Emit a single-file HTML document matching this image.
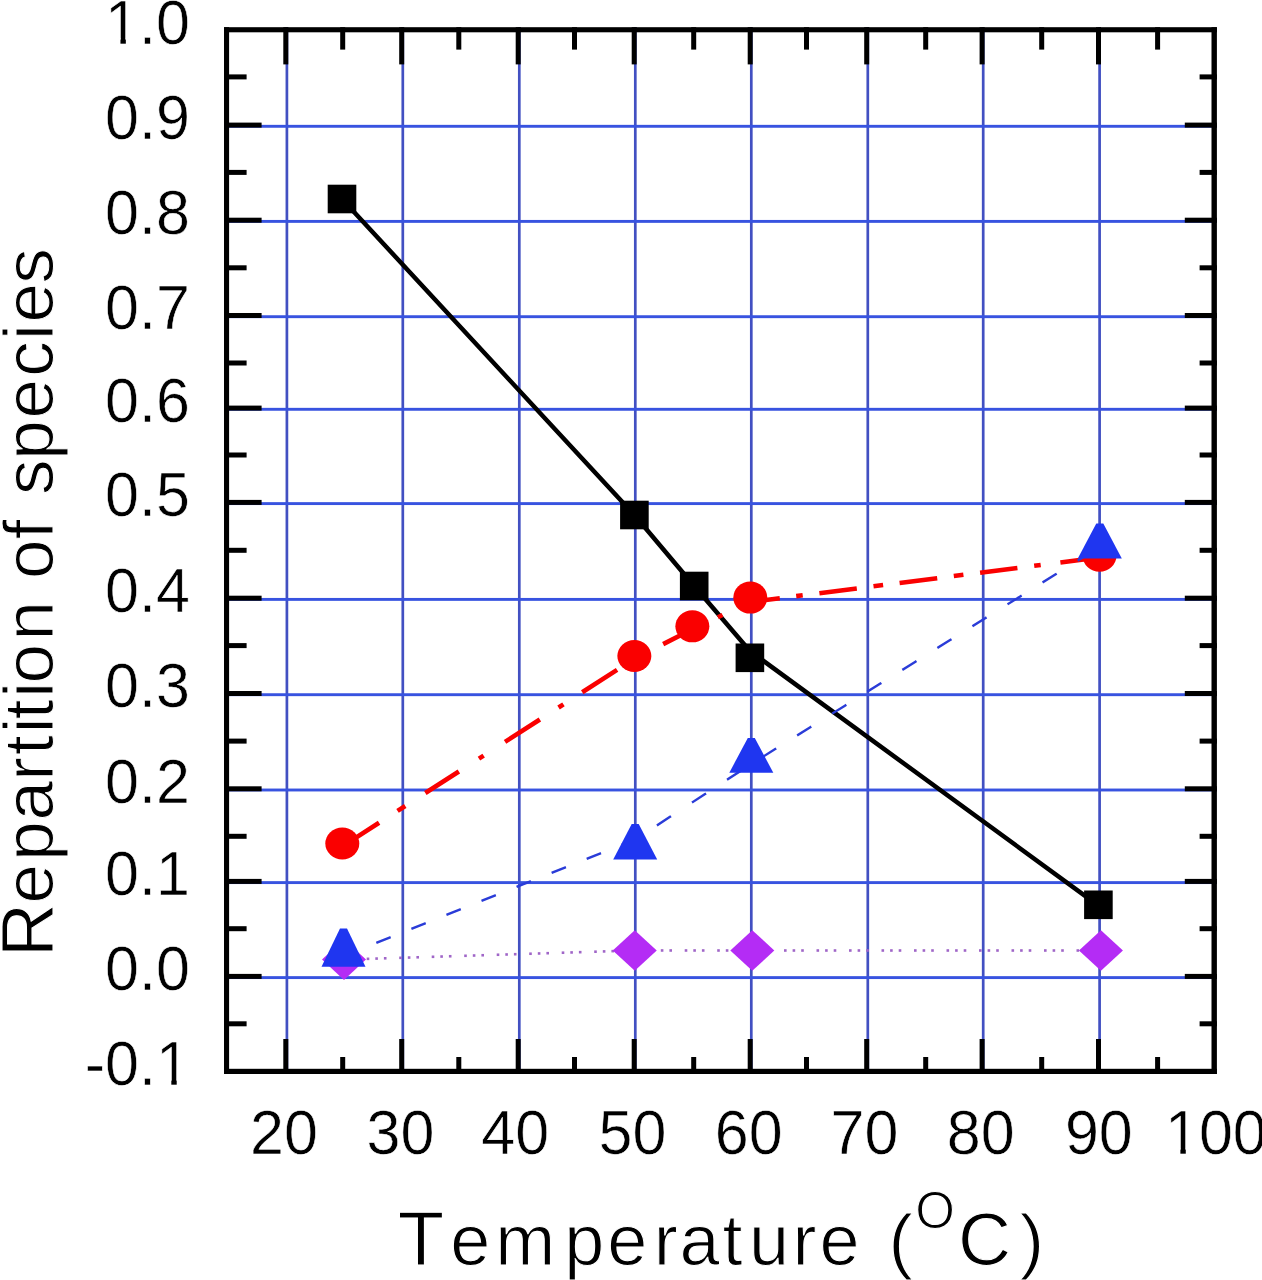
<!DOCTYPE html>
<html><head><meta charset="utf-8"><style>
html,body{margin:0;padding:0;background:#fff;width:1262px;height:1280px;overflow:hidden}
svg{display:block;filter:blur(0.65px)}
</style></head><body>
<svg width="1262" height="1280" viewBox="0 0 1262 1280">
<rect x="285.55" y="27.2" width="2.7" height="1046.8" fill="#4250c2"/>
<rect x="401.45" y="27.2" width="2.7" height="1046.8" fill="#4250c2"/>
<rect x="517.95" y="27.2" width="2.7" height="1046.8" fill="#4250c2"/>
<rect x="633.95" y="27.2" width="2.7" height="1046.8" fill="#4250c2"/>
<rect x="749.95" y="27.2" width="2.7" height="1046.8" fill="#4250c2"/>
<rect x="866.45" y="27.2" width="2.7" height="1046.8" fill="#4250c2"/>
<rect x="981.85" y="27.2" width="2.7" height="1046.8" fill="#4250c2"/>
<rect x="1098.25" y="27.2" width="2.7" height="1046.8" fill="#4250c2"/>
<rect x="224" y="124.85" width="992.9" height="2.9" fill="#3853e0"/>
<rect x="224" y="219.95" width="992.9" height="2.9" fill="#3853e0"/>
<rect x="224" y="315.25" width="992.9" height="2.9" fill="#3853e0"/>
<rect x="224" y="407.85" width="992.9" height="2.9" fill="#3853e0"/>
<rect x="224" y="502.15" width="992.9" height="2.9" fill="#3853e0"/>
<rect x="224" y="597.95" width="992.9" height="2.9" fill="#3853e0"/>
<rect x="224" y="693.25" width="992.9" height="2.9" fill="#3853e0"/>
<rect x="224" y="788.55" width="992.9" height="2.9" fill="#3853e0"/>
<rect x="224" y="881.15" width="992.9" height="2.9" fill="#3853e0"/>
<rect x="224" y="976.15" width="992.9" height="2.9" fill="#3853e0"/>
<rect x="283.3" y="27.2" width="5.0" height="37.2"/>
<rect x="283.3" y="1039" width="5.0" height="35"/>
<rect x="340.2" y="27.2" width="5.0" height="22.4"/>
<rect x="340.2" y="1057" width="5.0" height="17"/>
<rect x="399.2" y="27.2" width="5.0" height="37.2"/>
<rect x="399.2" y="1039" width="5.0" height="35"/>
<rect x="456.3" y="27.2" width="5.0" height="22.4"/>
<rect x="456.3" y="1057" width="5.0" height="17"/>
<rect x="515.7" y="27.2" width="5.0" height="37.2"/>
<rect x="515.7" y="1039" width="5.0" height="35"/>
<rect x="572" y="27.2" width="5.0" height="22.4"/>
<rect x="572" y="1057" width="5.0" height="17"/>
<rect x="631.7" y="27.2" width="5.0" height="37.2"/>
<rect x="631.7" y="1039" width="5.0" height="35"/>
<rect x="691.2" y="27.2" width="5.0" height="22.4"/>
<rect x="691.2" y="1057" width="5.0" height="17"/>
<rect x="747.7" y="27.2" width="5.0" height="37.2"/>
<rect x="747.7" y="1039" width="5.0" height="35"/>
<rect x="804" y="27.2" width="5.0" height="22.4"/>
<rect x="804" y="1057" width="5.0" height="17"/>
<rect x="864.2" y="27.2" width="5.0" height="37.2"/>
<rect x="864.2" y="1039" width="5.0" height="35"/>
<rect x="923.2" y="27.2" width="5.0" height="22.4"/>
<rect x="923.2" y="1057" width="5.0" height="17"/>
<rect x="979.6" y="27.2" width="5.0" height="37.2"/>
<rect x="979.6" y="1039" width="5.0" height="35"/>
<rect x="1039.2" y="27.2" width="5.0" height="22.4"/>
<rect x="1039.2" y="1057" width="5.0" height="17"/>
<rect x="1096" y="27.2" width="5.0" height="37.2"/>
<rect x="1096" y="1039" width="5.0" height="35"/>
<rect x="1155.1" y="27.2" width="5.0" height="22.4"/>
<rect x="1155.1" y="1057" width="5.0" height="17"/>
<rect x="224" y="74.4" width="22.6" height="5.0"/>
<rect x="1199.6" y="74.4" width="17.3" height="5.0"/>
<rect x="224" y="122.6" width="37.6" height="5.0"/>
<rect x="1184.8" y="122.6" width="32.1" height="5.0"/>
<rect x="224" y="169.9" width="22.6" height="5.0"/>
<rect x="1199.6" y="169.9" width="17.3" height="5.0"/>
<rect x="224" y="217.7" width="37.6" height="5.0"/>
<rect x="1184.8" y="217.7" width="32.1" height="5.0"/>
<rect x="224" y="265.3" width="22.6" height="5.0"/>
<rect x="1199.6" y="265.3" width="17.3" height="5.0"/>
<rect x="224" y="313" width="37.6" height="5.0"/>
<rect x="1184.8" y="313" width="32.1" height="5.0"/>
<rect x="224" y="360.5" width="22.6" height="5.0"/>
<rect x="1199.6" y="360.5" width="17.3" height="5.0"/>
<rect x="224" y="405.6" width="37.6" height="5.0"/>
<rect x="1184.8" y="405.6" width="32.1" height="5.0"/>
<rect x="224" y="452.5" width="22.6" height="5.0"/>
<rect x="1199.6" y="452.5" width="17.3" height="5.0"/>
<rect x="224" y="499.9" width="37.6" height="5.0"/>
<rect x="1184.8" y="499.9" width="32.1" height="5.0"/>
<rect x="224" y="547.8" width="22.6" height="5.0"/>
<rect x="1199.6" y="547.8" width="17.3" height="5.0"/>
<rect x="224" y="595.7" width="37.6" height="5.0"/>
<rect x="1184.8" y="595.7" width="32.1" height="5.0"/>
<rect x="224" y="643.1" width="22.6" height="5.0"/>
<rect x="1199.6" y="643.1" width="17.3" height="5.0"/>
<rect x="224" y="691" width="37.6" height="5.0"/>
<rect x="1184.8" y="691" width="32.1" height="5.0"/>
<rect x="224" y="738.6" width="22.6" height="5.0"/>
<rect x="1199.6" y="738.6" width="17.3" height="5.0"/>
<rect x="224" y="786.3" width="37.6" height="5.0"/>
<rect x="1184.8" y="786.3" width="32.1" height="5.0"/>
<rect x="224" y="833.8" width="22.6" height="5.0"/>
<rect x="1199.6" y="833.8" width="17.3" height="5.0"/>
<rect x="224" y="878.9" width="37.6" height="5.0"/>
<rect x="1184.8" y="878.9" width="32.1" height="5.0"/>
<rect x="224" y="926.2" width="22.6" height="5.0"/>
<rect x="1199.6" y="926.2" width="17.3" height="5.0"/>
<rect x="224" y="973.9" width="37.6" height="5.0"/>
<rect x="1184.8" y="973.9" width="32.1" height="5.0"/>
<rect x="224" y="1021.3" width="22.6" height="5.0"/>
<rect x="1199.6" y="1021.3" width="17.3" height="5.0"/>
<rect x="224.0" y="27.2" width="992.9" height="5.1"/>
<rect x="224.0" y="1068.8" width="992.9" height="5.2"/>
<rect x="224.0" y="27.2" width="5.1" height="1046.8"/>
<rect x="1211.5" y="27.2" width="5.4" height="1046.8"/>
<polyline points="342,199 634.4,515 694.2,586 749.9,651 1098.4,905.6" fill="none" stroke="#000" stroke-width="4.5" stroke-linejoin="round"/>
<rect x="327.7" y="184.7" width="28.6" height="28.6"/>
<rect x="620.1" y="500.7" width="28.6" height="28.6"/>
<rect x="679.9" y="571.7" width="28.6" height="28.6"/>
<rect x="735.6" y="643.5" width="28.6" height="28.6"/>
<rect x="1084.1" y="890.5" width="28.6" height="28.6"/>
<path d="M345.54 844.32 L379.06 822.79 M397.54 810.91 L405.26 805.96 M425.34 793.06 L458.86 771.53 M478.94 758.63 L483.66 755.6 M505.04 741.86 L539.86 719.5 M558.54 707.5 L563.46 704.34 M582.24 692.27 L617.06 669.91 M636.85 657.53 L642.65 654.56 M663.15 644.1 L692.35 629.2 L698.65 626.24 M717.88 617.22 L722.52 615.04 M741.09 606.32 L750.3 602 L779.81 598.24 M796.19 596.15 L802.71 595.32 M819.39 593.2 L856.81 588.43 M873.49 586.3 L883.11 585.08 M899.59 582.98 L937.21 578.18 M953.79 576.07 L963.41 574.84 M980.09 572.72 L1017.41 567.96 M1034.19 565.82 L1040.71 564.99 M1060.39 562.48 L1098.91 557.58" fill="none" stroke="#fa0000" stroke-width="4.6" stroke-linecap="butt" stroke-linejoin="round"/>
<ellipse cx="342.3" cy="843.5" rx="17" ry="16" fill="#fa0000"/>
<ellipse cx="634.35" cy="656" rx="17" ry="16" fill="#fa0000"/>
<ellipse cx="692.35" cy="626.35" rx="17" ry="16" fill="#fa0000"/>
<ellipse cx="750.3" cy="597.6" rx="17" ry="16" fill="#fa0000"/>
<ellipse cx="1099.5" cy="555.7" rx="17" ry="16" fill="#fa0000"/>
<g fill="#a066c8"><rect x="342.8" y="958.3" width="2.6" height="2.6"/><rect x="351.4" y="958.03" width="2.6" height="2.6"/><rect x="366.7" y="957.54" width="2.6" height="2.6"/><rect x="375.3" y="957.27" width="2.6" height="2.6"/><rect x="383.9" y="957" width="2.6" height="2.6"/><rect x="399.2" y="956.52" width="2.6" height="2.6"/><rect x="407.8" y="956.25" width="2.6" height="2.6"/><rect x="416.4" y="955.98" width="2.6" height="2.6"/><rect x="431.7" y="955.5" width="2.6" height="2.6"/><rect x="440.3" y="955.23" width="2.6" height="2.6"/><rect x="448.9" y="954.96" width="2.6" height="2.6"/><rect x="464.2" y="954.48" width="2.6" height="2.6"/><rect x="472.8" y="954.21" width="2.6" height="2.6"/><rect x="481.4" y="953.94" width="2.6" height="2.6"/><rect x="496.7" y="953.45" width="2.6" height="2.6"/><rect x="505.3" y="953.18" width="2.6" height="2.6"/><rect x="513.9" y="952.91" width="2.6" height="2.6"/><rect x="529.2" y="952.43" width="2.6" height="2.6"/><rect x="537.8" y="952.16" width="2.6" height="2.6"/><rect x="546.4" y="951.89" width="2.6" height="2.6"/><rect x="561.7" y="951.41" width="2.6" height="2.6"/><rect x="570.3" y="951.14" width="2.6" height="2.6"/><rect x="578.9" y="950.87" width="2.6" height="2.6"/><rect x="594.2" y="950.39" width="2.6" height="2.6"/><rect x="602.8" y="950.11" width="2.6" height="2.6"/><rect x="611.4" y="949.84" width="2.6" height="2.6"/><rect x="626.7" y="949.36" width="2.6" height="2.6"/><rect x="636.9" y="949.15" width="2.6" height="2.6"/><rect x="652.2" y="949.16" width="2.6" height="2.6"/><rect x="660.8" y="949.16" width="2.6" height="2.6"/><rect x="669.4" y="949.17" width="2.6" height="2.6"/><rect x="684.7" y="949.17" width="2.6" height="2.6"/><rect x="693.3" y="949.18" width="2.6" height="2.6"/><rect x="701.9" y="949.18" width="2.6" height="2.6"/><rect x="717.2" y="949.19" width="2.6" height="2.6"/><rect x="725.8" y="949.19" width="2.6" height="2.6"/><rect x="734.4" y="949.19" width="2.6" height="2.6"/><rect x="749.7" y="949.2" width="2.6" height="2.6"/><rect x="751.5" y="949.2" width="2.6" height="2.6"/><rect x="760.1" y="949.2" width="2.6" height="2.6"/><rect x="768.7" y="949.2" width="2.6" height="2.6"/><rect x="784" y="949.2" width="2.6" height="2.6"/><rect x="792.6" y="949.2" width="2.6" height="2.6"/><rect x="801.2" y="949.2" width="2.6" height="2.6"/><rect x="816.5" y="949.2" width="2.6" height="2.6"/><rect x="825.1" y="949.2" width="2.6" height="2.6"/><rect x="833.7" y="949.2" width="2.6" height="2.6"/><rect x="849" y="949.2" width="2.6" height="2.6"/><rect x="857.6" y="949.2" width="2.6" height="2.6"/><rect x="866.2" y="949.2" width="2.6" height="2.6"/><rect x="881.5" y="949.2" width="2.6" height="2.6"/><rect x="890.1" y="949.2" width="2.6" height="2.6"/><rect x="898.7" y="949.2" width="2.6" height="2.6"/><rect x="914" y="949.2" width="2.6" height="2.6"/><rect x="922.6" y="949.2" width="2.6" height="2.6"/><rect x="931.2" y="949.2" width="2.6" height="2.6"/><rect x="946.5" y="949.2" width="2.6" height="2.6"/><rect x="955.1" y="949.2" width="2.6" height="2.6"/><rect x="963.7" y="949.2" width="2.6" height="2.6"/><rect x="979" y="949.2" width="2.6" height="2.6"/><rect x="987.6" y="949.2" width="2.6" height="2.6"/><rect x="996.2" y="949.2" width="2.6" height="2.6"/><rect x="1011.5" y="949.2" width="2.6" height="2.6"/><rect x="1020.1" y="949.2" width="2.6" height="2.6"/><rect x="1028.7" y="949.2" width="2.6" height="2.6"/><rect x="1044" y="949.2" width="2.6" height="2.6"/><rect x="1052.6" y="949.2" width="2.6" height="2.6"/><rect x="1061.2" y="949.2" width="2.6" height="2.6"/><rect x="1076.5" y="949.2" width="2.6" height="2.6"/><rect x="1085.1" y="949.2" width="2.6" height="2.6"/><rect x="1093.7" y="949.2" width="2.6" height="2.6"/></g>
<polygon points="344,939.3 366,959.6 344,979.9 322,959.6" fill="#b42cf5"/>
<polygon points="634.75,930.15 656.75,950.45 634.75,970.75 612.75,950.45" fill="#b42cf5"/>
<polygon points="752.3,930.2 774.3,950.5 752.3,970.8 730.3,950.5" fill="#b42cf5"/>
<polygon points="1100.95,930.2 1122.95,950.5 1100.95,970.8 1078.95,950.5" fill="#b42cf5"/>
<path d="M343.5 956 L354.48 951.61 M377.44 942.44 L389.54 937.61 M412.5 928.44 L424.6 923.61 M447.56 914.44 L459.66 909.61 M482.62 900.44 L494.72 895.61 M517.68 886.44 L529.78 881.6 M552.74 872.43 L564.84 867.6 M587.8 858.43 L599.9 853.6 M622.86 844.43 L634.96 839.6 M657.92 824.73 L670.02 816.86 M692.98 801.93 L705.08 794.06 M728.04 779.13 L740.14 771.26 M763.1 756.65 L775.2 749.1 M798.16 734.79 L810.26 727.25 M833.22 712.94 L845.32 705.4 M868.28 691.09 L880.38 683.55 M903.34 669.24 L915.44 661.7 M938.4 647.39 L950.5 639.85 M973.46 625.54 L985.56 618 M1008.52 603.69 L1020.62 596.15 M1043.58 581.84 L1055.68 574.3 M1078.64 559.99 L1090.74 552.45" fill="none" stroke="#2a3cd8" stroke-width="2.4" stroke-linecap="square"/>
<polygon points="340,928.5 347,928.5 365.5,966.7 321.5,966.7" fill="#1f36f0"/>
<polygon points="631.7,824 638.7,824 657.2,859.5 613.2,859.5" fill="#1f36f0"/>
<polygon points="747.8,738 754.8,738 773.3,772.7 729.3,772.7" fill="#1f36f0"/>
<polygon points="1096.3,523.4 1103.3,523.4 1121.8,558.6 1077.8,558.6" fill="#1f36f0"/>
<g font-family="Liberation Sans, Arial, sans-serif" font-size="61" fill="#000" stroke="#fff" stroke-width="0.55" style="font-kerning:none" transform="scale(1,1.03)"><text x="189.9" y="134.85" text-anchor="end">0.9</text><text x="189.9" y="227.18" text-anchor="end">0.8</text><text x="189.9" y="319.71" text-anchor="end">0.7</text><text x="189.9" y="409.61" text-anchor="end">0.6</text><text x="189.9" y="501.17" text-anchor="end">0.5</text><text x="189.9" y="594.17" text-anchor="end">0.4</text><text x="189.9" y="686.7" text-anchor="end">0.3</text><text x="189.9" y="779.22" text-anchor="end">0.2</text><text x="189.9" y="869.13" text-anchor="end">0.1</text><text x="189.9" y="961.36" text-anchor="end">0.0</text><text x="189.9" y="42.23" text-anchor="end">1.0</text><text x="189.9" y="1053.5" text-anchor="end">-0.1</text><text x="284" y="1120.1" text-anchor="middle">20</text><text x="400.5" y="1120.1" text-anchor="middle">30</text><text x="515.2" y="1120.1" text-anchor="middle">40</text><text x="632.4" y="1120.1" text-anchor="middle">50</text><text x="748.7" y="1120.1" text-anchor="middle">60</text><text x="864.4" y="1120.1" text-anchor="middle">70</text><text x="980.7" y="1120.1" text-anchor="middle">80</text><text x="1098.8" y="1120.1" text-anchor="middle">90</text><text x="1165.05" y="1120.1">100</text></g>
<g fill="#fff"><rect x="108.96" y="38.31" width="11.49" height="6.19"/><rect x="125.84" y="38.31" width="11.01" height="6.19"/><rect x="159.83" y="1079.91" width="11.49" height="6.19"/><rect x="176.71" y="1079.91" width="11.01" height="6.19"/><rect x="1168.9" y="1148.51" width="11.49" height="6.19"/><rect x="1185.78" y="1148.51" width="11.01" height="6.19"/></g>
<text font-family="Liberation Sans, Arial, sans-serif" y="1264.8" fill="#000" stroke="#fff" stroke-width="1.1" style="font-kerning:none"><tspan x="397.69" font-size="76">T</tspan><tspan x="450.14" font-size="72">e</tspan><tspan x="495.22" font-size="72">m</tspan><tspan x="564.26" font-size="72">p</tspan><tspan x="607.14" font-size="72">e</tspan><tspan x="653.72" font-size="72">r</tspan><tspan x="679.44" font-size="72">a</tspan><tspan x="722.51" font-size="72">t</tspan><tspan x="749.02" font-size="72">u</tspan><tspan x="792.52" font-size="72">r</tspan><tspan x="819.54" font-size="72">e</tspan><tspan x="868.18" font-size="73"> (</tspan><tspan x="915.18" y="1228" font-size="51">O</tspan><tspan x="958.07" y="1264.8" font-size="73.5">C</tspan><tspan x="1019.87" font-size="73">)</tspan></text>
<text font-family="Liberation Sans, Arial, sans-serif" transform="rotate(-90)" y="52.8" fill="#000" stroke="#fff" stroke-width="1.0" style="font-kerning:none"><tspan x="-957.15" font-size="75">R</tspan><tspan x="-903.42" font-size="71.0">e</tspan><tspan x="-860.68" font-size="71.0">p</tspan><tspan x="-820.52" font-size="71.0">a</tspan><tspan x="-780.81" font-size="71.0">r</tspan><tspan x="-754.97" font-size="71.0">t</tspan><tspan x="-733.35" font-size="71.0">i</tspan><tspan x="-719.27" font-size="71.0">t</tspan><tspan x="-697.75" font-size="71.0">i</tspan><tspan x="-683.38" font-size="71.0">o</tspan><tspan x="-640.61" font-size="71.0">n</tspan><tspan x="-601.13" font-size="71.0">&#160;</tspan><tspan x="-579.08" font-size="71.0">o</tspan><tspan x="-539.21" font-size="71.0">f</tspan><tspan x="-519.48" font-size="71.0">&#160;</tspan><tspan x="-494.98" font-size="71.0">s</tspan><tspan x="-459.68" font-size="71.0">p</tspan><tspan x="-418.42" font-size="71.0">e</tspan><tspan x="-376.82" font-size="71.0">c</tspan><tspan x="-339.95" font-size="71.0">i</tspan><tspan x="-322.62" font-size="71.0">e</tspan><tspan x="-283.78" font-size="71.0">s</tspan></text>
</svg>
</body></html>
